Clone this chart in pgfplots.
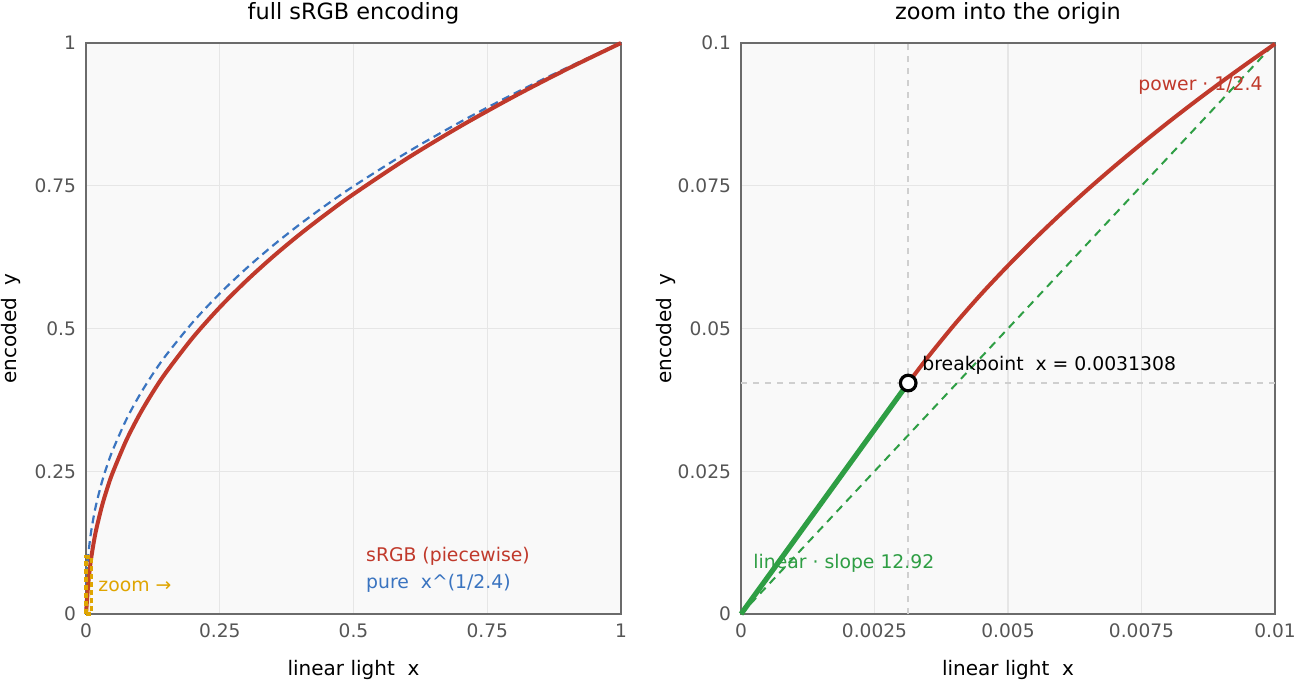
\documentclass[border=0pt]{standalone}
\usepackage{fontspec}
\setmainfont{DejaVu Sans}
\usepackage{pgfplots}
\pgfplotsset{compat=1.18}

\definecolor{srgbred}{HTML}{C0392B}
\definecolor{purblue}{HTML}{3A74C0}
\definecolor{lingreen}{HTML}{2E9E44}
\definecolor{zoomgold}{HTML}{DFA500}
\definecolor{framec}{HTML}{6B6B6B}
\definecolor{gridc}{HTML}{E6E6E6}
\definecolor{tickc}{HTML}{555555}
\definecolor{panelbg}{HTML}{F9F9F9}
\definecolor{crossc}{HTML}{CFCFCF}

\tikzset{note/.style={anchor=west, inner sep=0pt, font=\fontsize{9.4}{11}\selectfont}}

\pgfplotsset{
  panel/.style={
    scale only axis, width=267.5pt, height=285.5pt,
    clip=false,
    axis background/.style={fill=panelbg},
    axis line style={framec, line width=1pt},
    grid=major, major grid style={gridc, line width=0.6pt},
    tick style={draw=none},
    scaled ticks=false,
    ticklabel style={font=\fontsize{9.3}{11}\selectfont, text=tickc},
    xticklabel style={yshift=-1.5pt},
    yticklabel style={xshift=-1.5pt},
    label style={font=\fontsize{10}{12}\selectfont},
    xlabel style={at={(axis description cs:0.5,-0.098)}, anchor=center},
    ylabel style={at={(axis description cs:-0.14,0.5)}, anchor=center},
    every axis title shift=0pt,
    title style={at={(axis description cs:0.5,1.0525)}, anchor=center,
                 font=\fontsize{11.2}{13}\selectfont},
    xlabel={linear light\ \ x}, ylabel={encoded\ \ y},
  },
}

\begin{document}
\begin{tikzpicture}
\useasboundingbox (0,0) rectangle (647.5pt,341pt);

% ---------- full range ----------
\begin{axis}[panel, at={(43pt,34pt)}, anchor=south west,
  xmin=0, xmax=1, ymin=0, ymax=1,
  xtick={0,0.25,0.5,0.75,1}, xticklabels={0,0.25,0.5,0.75,1},
  ytick={0,0.25,0.5,0.75,1}, yticklabels={0,0.25,0.5,0.75,1},
  title={full sRGB encoding}]

% pure power law x^(1/2.4)
\addplot[purblue, line width=1.1pt, dash pattern=on 4pt off 2.5pt, smooth] coordinates {
  (0,0) (0.0001,0.02154) (0.0005,0.04213) (0.001,0.05623) (0.002,0.07506)
  (0.0031308,0.09047) (0.005,0.10996) (0.0075,0.13019) (0.01,0.14678)
  (0.015,0.17381) (0.02,0.19593) (0.03,0.23200) (0.04,0.26153) (0.05,0.28704)
  (0.075,0.33983) (0.1,0.38312) (0.125,0.42046) (0.15,0.45363) (0.2,0.51137)
  (0.25,0.56123) (0.3,0.60553) (0.35,0.64571) (0.4,0.68268) (0.45,0.71698)
  (0.5,0.74915) (0.6,0.80829) (0.7,0.86190) (0.8,0.91121) (0.9,0.95705) (1,1)
};

% piecewise sRGB transfer curve
\addplot[srgbred, line width=2pt, smooth] coordinates {
  (0,0) (0.0031308,0.04045) (0.005,0.06101) (0.0075,0.08235) (0.01,0.09985)
  (0.015,0.12837) (0.02,0.15171) (0.03,0.18976) (0.04,0.22091) (0.05,0.24783)
  (0.075,0.30352) (0.1,0.34919) (0.125,0.38859) (0.15,0.42358) (0.2,0.48450)
  (0.25,0.53710) (0.3,0.58383) (0.35,0.62622) (0.4,0.66523) (0.45,0.70141)
  (0.5,0.73535) (0.6,0.79775) (0.7,0.85430) (0.8,0.90633) (0.9,0.95469) (1,1)
};

% zoom window
\addplot[zoomgold, line width=1.6pt, dash pattern=on 2.5pt off 1.5pt,
         fill=zoomgold, fill opacity=0.12] coordinates {
  (0,0) (0.01,0) (0.01,0.1) (0,0.1)
} -- cycle;

\node[note, text=zoomgold] at (axis cs:0.0224,0.049) {zoom →};
\node[note, text=srgbred] at (axis cs:0.523,0.1016) {sRGB (piecewise)};
\node[note, text=purblue] at (axis cs:0.523,0.0543) {pure\ \ x\textasciicircum(1/2.4)};
\end{axis}

% ---------- zoom near the origin ----------
\begin{axis}[panel, at={(370.5pt,34pt)}, anchor=south west, width=267pt,
  xmin=0, xmax=0.01, ymin=0, ymax=0.1,
  xtick={0,0.0025,0.005,0.0075,0.01}, xticklabels={0,0.0025,0.005,0.0075,0.01},
  ytick={0,0.025,0.05,0.075,0.1}, yticklabels={0,0.025,0.05,0.075,0.1},
  title={zoom into the origin}]

% crosshair through the breakpoint
\addplot[crossc, line width=0.8pt, dash pattern=on 3pt off 3pt] coordinates {(0.0031308,0) (0.0031308,0.1)};
\addplot[crossc, line width=0.8pt, dash pattern=on 3pt off 3pt] coordinates {(0,0.04045) (0.01,0.04045)};

% diagonal reference
\addplot[lingreen, line width=1pt, dash pattern=on 4pt off 3pt] coordinates {(0,0) (0.01,0.1)};

% power segment
\addplot[srgbred, line width=2pt, smooth] coordinates {
  (0.0031308,0.04045) (0.0035,0.04498) (0.004,0.05072) (0.0045,0.05605)
  (0.005,0.06101) (0.0055,0.06570) (0.006,0.07016) (0.0065,0.07441)
  (0.007,0.07846) (0.0075,0.08235) (0.008,0.08610) (0.0085,0.08971)
  (0.009,0.09320) (0.0095,0.09657) (0.01,0.09985)
};

% linear segment
\addplot[lingreen, line width=2.6pt] coordinates {(0,0) (0.0031308,0.04045)};

% breakpoint
\addplot[only marks, mark=*, mark size=3.9pt,
         mark options={fill=white, draw=black, line width=1.6pt}]
  coordinates {(0.0031308,0.04045)};

\node[note, text=black] at (axis cs:0.00339,0.0436) {breakpoint\ \ x = 0.0031308};
\node[note, anchor=east, text=srgbred] at (axis cs:0.009775,0.0926) {power · 1/2.4};
\node[note, text=lingreen] at (axis cs:0.000225,0.00893) {linear · slope 12.92};
\end{axis}
\end{tikzpicture}
\end{document}
